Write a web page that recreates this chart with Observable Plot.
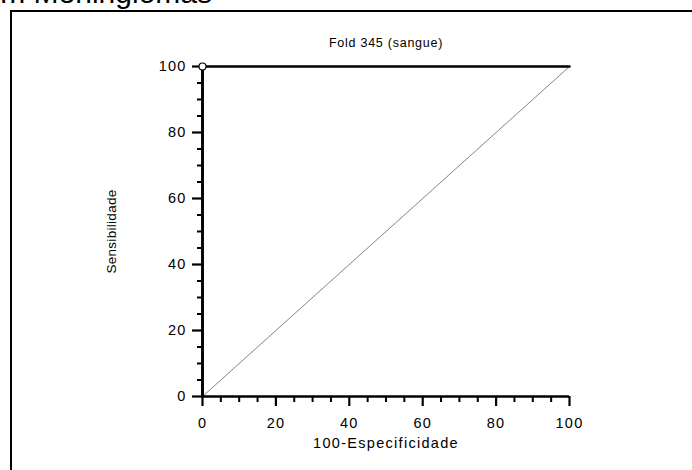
<!DOCTYPE html>
<html>
<head>
<meta charset="utf-8">
<script src="https://cdn.jsdelivr.net/npm/d3@7"></script>
<script src="https://cdn.jsdelivr.net/npm/@observablehq/plot@0.6"></script>
<style>
  html, body { margin: 0; padding: 0; background: #fff; overflow: hidden; }
  #wrap { position: relative; width: 692px; height: 470px; overflow: hidden; }
  #frame { position: absolute; left: 10px; top: 10px; width: 720px; height: 520px; border: 2px solid #000; box-sizing: border-box; }
  #heading { position: absolute; right: calc(692px - 212px); top: -24px; font: 30px "Liberation Sans", Arial, sans-serif; line-height: 34px; white-space: nowrap; color: #000; }
  #chart { position: absolute; left: 0; top: 0; }
</style>
</head>
<body>
<div id="wrap">
  <div id="heading">Curva ROC em Meningiomas</div>
  <div id="frame"></div>
  <div id="chart"></div>
</div>
<script>
const chartTitle = "Fold 345 (sangue)";
const xLabel = "100-Especificidade";
const yLabel = "Sensibilidade";
const rocX = [0, 0, 100];
const rocY = [0, 100, 100];
const diagX = [0, 100];
const diagY = [0, 100];
const majorTicks = [0, 20, 40, 60, 80, 100];
const minorTicks = [5, 10, 15, 25, 30, 35, 45, 50, 55, 65, 70, 75, 85, 90, 95];

const roc = rocX.map((x, i) => ({x, y: rocY[i]}));
const diag = diagX.map((x, i) => ({x, y: diagY[i]}));

const font = "'Liberation Sans', Arial, sans-serif";

const plot = Plot.plot({
  width: 692,
  height: 470,
  marginLeft: 202,
  marginRight: 123,
  marginTop: 66,
  marginBottom: 74,
  style: {fontFamily: font, fontSize: "14px", background: "transparent", color: "#000"},
  x: {domain: [0, 100]},
  y: {domain: [0, 100]},
  marks: [
    Plot.axisX(minorTicks, {tickSize: 6, tickFormat: () => "", strokeWidth: 2, label: null}),
    Plot.axisY(minorTicks, {tickSize: 5, tickFormat: () => "", strokeWidth: 2, label: null}),
    Plot.axisX(majorTicks, {tickSize: 10, tickPadding: 11, strokeWidth: 2.2, label: null, fontSize: 14.5}),
    Plot.axisY(majorTicks, {tickSize: 10, tickPadding: 6, strokeWidth: 2.2, label: null, fontSize: 14.5}),
    Plot.line(diag, {x: "x", y: "y", stroke: "#666", strokeWidth: 0.8}),
    Plot.ruleY([0], {stroke: "#000", strokeWidth: 2.6}),
    Plot.ruleX([0], {stroke: "#000", strokeWidth: 2.6}),
    Plot.line(roc, {x: "x", y: "y", stroke: "#000", strokeWidth: 2.6}),
    Plot.dot(roc.slice(1, 2), {x: "x", y: "y", r: 3.5, fill: "#fff", stroke: "#000", strokeWidth: 1.2}),
    Plot.text([chartTitle], {text: d => d, frameAnchor: "top", lineAnchor: "middle", dy: -24, fontSize: 12.5}),
    Plot.text([xLabel], {text: d => d, frameAnchor: "bottom", lineAnchor: "middle", dy: 47, fontSize: 14.5}),
    Plot.text([yLabel], {text: d => d, frameAnchor: "left", textAnchor: "middle", lineAnchor: "middle", dx: -91, rotate: -90, fontSize: 13.5})
  ]
});

// widen the glyph spacing to match the reference's broad lettering
d3.select(plot).selectAll("text").each(function () {
  const t = this.textContent;
  let ls = 0;
  if (t === chartTitle) ls = 0.75;
  else if (t === xLabel) ls = 1.3;
  else if (t === yLabel) ls = 0.3;
  else if (/^\d+$/.test(t)) ls = 1.2;
  if (ls) this.style.letterSpacing = ls + "px";
});

document.getElementById("chart").appendChild(plot);
</script>
</body>
</html>
